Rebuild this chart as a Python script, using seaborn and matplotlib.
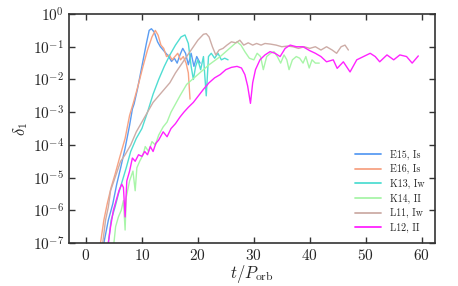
import matplotlib
matplotlib.use('Agg')
import matplotlib.pyplot as plt
import numpy as np
import pandas as pd
import seaborn as sns

# Data (time in orbits, log10 of delta_1)
e15_t = [3.2, 4.0, 4.8, 5.5, 6.2, 7.0, 7.8, 8.3, 8.6, 9.2, 10.0, 10.8, 11.3, 11.7, 12.2, 12.8,
         13.3, 13.8, 14.3, 14.8, 15.3, 15.8, 16.3, 16.8, 17.3, 17.8, 18.3, 18.8, 19.3, 19.8, 20.4]
e15_logd = [-7.0, -6.3, -5.8, -5.2, -4.7, -4.1, -3.4, -2.9, -2.75, -2.3, -1.6, -0.9, -0.5, -0.45, -0.55, -0.85,
            -1.0, -1.1, -1.2, -1.3, -1.45, -1.35, -1.5, -1.25, -1.05, -1.2, -1.55, -1.2, -1.6, -1.3, -1.5]

e16_t = [2.6, 3.2, 3.8, 4.5, 5.2, 6.0, 7.0, 7.8, 8.5, 9.3, 10.2, 11.0, 11.8, 12.4, 12.9, 13.4,
         13.9, 14.4, 14.9, 15.4, 15.9, 16.4, 16.9, 17.4, 17.9, 18.3, 18.6]
e16_logd = [-7.0, -6.3, -5.8, -5.3, -4.9, -4.4, -3.8, -3.1, -2.7, -2.2, -1.6, -1.1, -0.7, -0.5, -0.65, -0.95,
            -1.05, -1.3, -1.25, -1.4, -1.3, -1.2, -1.4, -1.3, -1.5, -1.8, -2.6]

k13_t = [4.0, 4.5, 5.2, 5.8, 6.5, 7.2, 8.0, 9.0, 10.0, 11.0, 12.0, 13.0, 14.0, 15.0, 16.0, 17.0,
         17.7, 18.3, 18.8, 19.2, 19.6, 20.0, 20.5, 21.0, 21.5, 21.9, 22.4, 23.0, 23.6, 24.2, 24.8, 25.4]
k13_logd = [-7.0, -6.3, -5.9, -5.5, -5.1, -4.7, -4.2, -3.8, -3.5, -3.0, -2.45, -2.0, -1.6, -1.25, -0.95, -0.7,
            -0.64, -0.9, -1.6, -2.0, -1.6, -1.4, -1.7, -1.3, -2.5, -1.3, -1.2, -1.35, -1.2, -1.4, -1.35, -1.4]

k14_t = [5.0, 5.3, 5.8, 6.3, 6.7, 7.0, 7.2, 7.8, 8.4, 8.8, 9.1, 9.6, 10.2, 10.6, 11.2, 11.8, 12.4,
         13.0, 13.8, 14.5, 15.2, 16.0, 16.8, 18.0, 20.0, 22.0, 24.0, 26.0, 27.0, 27.7, 28.4, 29.2,
         30.0, 30.6, 31.2, 31.7, 32.3, 33.0, 33.6, 34.2, 34.8, 35.4, 35.9, 36.3, 36.9, 37.6, 38.2,
         38.8, 39.3, 39.9, 40.4, 41.0, 41.7]
k14_logd = [-7.0, -6.5, -6.2, -6.0, -5.7, -6.6, -5.6, -5.1, -4.8, -5.4, -4.7, -4.5, -4.3, -4.05, -4.2, -3.9, -4.0,
            -3.7, -3.45, -3.3, -3.0, -2.75, -2.5, -2.15, -1.85, -1.55, -1.3, -1.0, -0.85, -0.95, -1.15, -1.35,
            -1.4, -1.2, -1.3, -1.7, -1.3, -1.2, -1.15, -1.3, -1.5, -1.25, -1.4, -1.7, -1.4, -1.3, -1.35,
            -1.5, -1.3, -1.65, -1.4, -1.5, -1.5]

l11_t = [3.0, 3.5, 4.0, 4.4, 5.0, 5.6, 6.2, 7.0, 8.0, 9.0, 10.0, 11.0, 12.0, 13.0, 14.0, 15.0, 16.0,
         17.0, 18.0, 19.0, 20.0, 21.0, 21.5, 22.0, 22.6, 23.2, 23.8, 24.5, 25.2, 26.0, 26.8, 27.5,
         28.2, 29.0, 29.8, 30.5, 31.3, 32.0, 33.0, 34.0, 35.0, 36.0, 37.0, 38.0, 39.0, 40.0, 41.0,
         42.0, 43.0, 44.0, 44.8, 45.6, 46.3, 46.9]
l11_logd = [-7.0, -6.3, -5.9, -5.4, -5.1, -4.8, -4.5, -4.3, -4.0, -3.6, -3.3, -3.0, -2.7, -2.5, -2.3, -2.1, -1.8,
            -1.55, -1.3, -1.05, -0.8, -0.62, -0.6, -0.7, -1.0, -1.25, -1.1, -1.05, -0.95, -0.85, -0.88, -0.8,
            -0.95, -0.88, -0.95, -0.9, -0.95, -0.9, -0.92, -0.95, -1.0, -0.98, -1.0, -1.05, -1.0, -1.05, -1.0,
            -1.1, -1.0, -1.1, -1.2, -1.0, -0.95, -1.1]

l12_t = [4.0, 4.4, 4.9, 5.4, 5.9, 6.4, 6.7, 7.0, 7.3, 7.8, 8.3, 8.8, 9.4, 10.0, 10.5, 11.0, 11.5, 12.0,
         12.5, 13.0, 13.8, 14.5, 15.2, 16.0, 16.8, 17.5, 18.3, 19.2, 20.1, 21.0, 22.0, 23.0, 24.0,
         25.0, 26.0, 27.0, 27.8, 28.4, 28.9, 29.4, 29.8, 30.3, 31.1, 32.0, 32.9, 33.8, 34.7, 35.6,
         36.5, 37.6, 38.8, 40.0, 41.0, 42.0, 43.0, 44.2, 44.9, 46.0, 47.2, 48.4, 49.6, 50.8, 51.7,
         52.5, 53.8, 55.0, 56.1, 57.3, 58.3, 59.4]
l12_logd = [-7.0, -6.5, -6.0, -5.7, -5.4, -5.2, -5.3, -6.2, -5.1, -4.8, -4.4, -4.5, -4.3, -4.35, -4.2, -4.3, -4.05, -4.2,
            -3.95, -3.85, -3.6, -3.75, -3.5, -3.35, -3.15, -3.0, -2.85, -2.7, -2.5, -2.3, -2.1, -1.95, -1.85,
            -1.7, -1.63, -1.6, -1.65, -1.85, -2.2, -2.73, -2.1, -1.7, -1.4, -1.25, -1.15, -1.2, -1.3, -1.05,
            -0.95, -1.0, -1.0, -1.12, -1.2, -1.3, -1.46, -1.4, -1.66, -1.46, -1.77, -1.4, -1.3, -1.2, -1.3,
            -1.46, -1.25, -1.4, -1.25, -1.3, -1.5, -1.28]

runs = ['E15, Is', 'E16, Is', 'K13, Iw', 'K14, II', 'L11, Iw', 'L12, II']
colors = ['#5a9cf2', '#f7a384', '#50ddd2', '#a8f5a8', '#cdaca6', '#ff22ff']
times = [e15_t, e16_t, k13_t, k14_t, l11_t, l12_t]
logds = [e15_logd, e16_logd, k13_logd, k14_logd, l11_logd, l12_logd]

frames = []
for name, t, ld in zip(runs, times, logds):
    frames.append(pd.DataFrame({'t': t, 'delta': 10.0 ** np.array(ld), 'run': name}))
df = pd.concat(frames, ignore_index=True)

sns.set_style('ticks')
plt.rcParams['font.family'] = 'serif'
plt.rcParams['font.serif'] = ['cmr10', 'DejaVu Serif']
plt.rcParams['mathtext.fontset'] = 'cm'
plt.rcParams['axes.formatter.use_mathtext'] = True
plt.rcParams['axes.unicode_minus'] = False

fig = plt.figure(figsize=(4.58, 2.86), dpi=100)
ax = fig.add_axes([0.151, 0.150, 0.799, 0.801])

sns.lineplot(data=df, x='t', y='delta', hue='run', palette=dict(zip(runs, colors)),
             sort=False, estimator=None, units='run', lw=1.0, ax=ax)

ax.set_yscale('log')
ax.set_xlim(-3, 62.4)
ax.set_ylim(1e-7, 1)
ax.set_xticks([0, 10, 20, 30, 40, 50, 60])
ax.set_yticks([10.0 ** k for k in range(-7, 1)])
ax.yaxis.set_minor_locator(matplotlib.ticker.NullLocator())
ax.tick_params(direction='in', top=True, right=True, length=4, width=1, labelsize=11, color='#333333')
for s in ax.spines.values():
    s.set_linewidth(1.2)
    s.set_color('#333333')

ax.set_xlabel(r'$t/P_{\rm orb}$', fontsize=12, labelpad=0)
ax.set_ylabel(r'$\delta_1$', fontsize=12, labelpad=2)

leg = ax.legend(loc='lower right', frameon=False, fontsize=7.2, handlelength=2.6,
                handletextpad=0.9, labelspacing=0.45, borderaxespad=0.6)
for line in leg.get_lines():
    line.set_linewidth(1.3)

fig.savefig('out.png', dpi=100)
